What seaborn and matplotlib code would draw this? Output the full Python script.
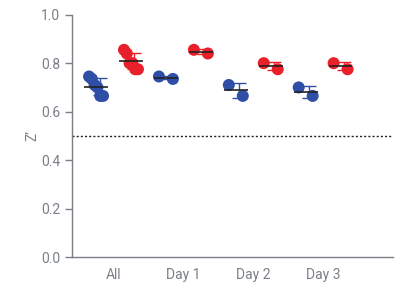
import numpy as np
import pandas as pd
import matplotlib
matplotlib.use("Agg")
import matplotlib.pyplot as plt
import seaborn as sns

days = ["Day 1", "Day 2", "Day 3"]
groups = ["All"] + days
blue_vals = {"Day 1": [0.745, 0.735], "Day 2": [0.71, 0.665], "Day 3": [0.70, 0.665]}
red_vals = {"Day 1": [0.855, 0.84], "Day 2": [0.80, 0.775], "Day 3": [0.80, 0.775]}
threshold = 0.5

blue = "#2f4fa6"
red = "#e8202a"
grey = "#7a7f87"

rows = []
for series, vals, off in [("blue", blue_vals, -0.25), ("red", red_vals, 0.25)]:
    allv = sum((vals[d] for d in days), [])
    for gi, g in enumerate(groups):
        v = np.sort(allv if g == "All" else vals[g])[::-1]
        jit = np.linspace(-0.1, 0.1, len(v))
        for j, y in zip(jit, v):
            rows.append({"series": series, "group": g, "x": gi + off + j, "center": gi + off, "z": y})
df = pd.DataFrame(rows)

sns.set_theme(style="ticks")
plt.rcParams["font.family"] = ["Roboto", "DejaVu Sans"]

fig = plt.figure(figsize=(3.95, 2.82), dpi=100)
ax = fig.add_axes([0.183, 0.088, 0.812, 0.86])

ax.axhline(threshold, color="#222222", lw=1.0, ls=(0, (1.5, 1.5)), zorder=1)

for series, col in [("blue", blue), ("red", red)]:
    sub = df[df.series == series]
    stats = sub.groupby("center")["z"].agg(["mean", "std"]).reset_index()
    ax.errorbar(stats["center"] + 0.05, stats["mean"], yerr=stats["std"], fmt="none",
                ecolor=col, elinewidth=1.0, capsize=5, capthick=1.0, zorder=2)
    sns.scatterplot(data=sub, x="x", y="z", color=col, s=75, edgecolor="none",
                    ax=ax, zorder=3, legend=False)
    ax.hlines(stats["mean"], stats["center"] - 0.17, stats["center"] + 0.17,
              color="#222222", lw=1.2, zorder=4)

ax.set_xlim(-0.59, 4.0)
ax.set_ylim(0, 1.0)
ax.set_xticks(range(len(groups)))
ax.set_xticklabels(groups)
ax.set_yticks([0, 0.2, 0.4, 0.6, 0.8, 1.0])
ax.set_yticklabels(["0.0", "0.2", "0.4", "0.6", "0.8", "1.0"])
ax.set_xlabel("")
ax.set_ylabel("Z’", color=grey, fontsize=10, labelpad=1)
ax.tick_params(axis="y", colors=grey, labelcolor=grey, labelsize=10, length=5, width=1)
ax.tick_params(axis="x", length=0, labelcolor=grey, labelsize=10, pad=8)
for s in ["left", "bottom"]:
    ax.spines[s].set_color(grey)
    ax.spines[s].set_linewidth(1)
sns.despine(ax=ax)

fig.savefig("out.png", dpi=100)
